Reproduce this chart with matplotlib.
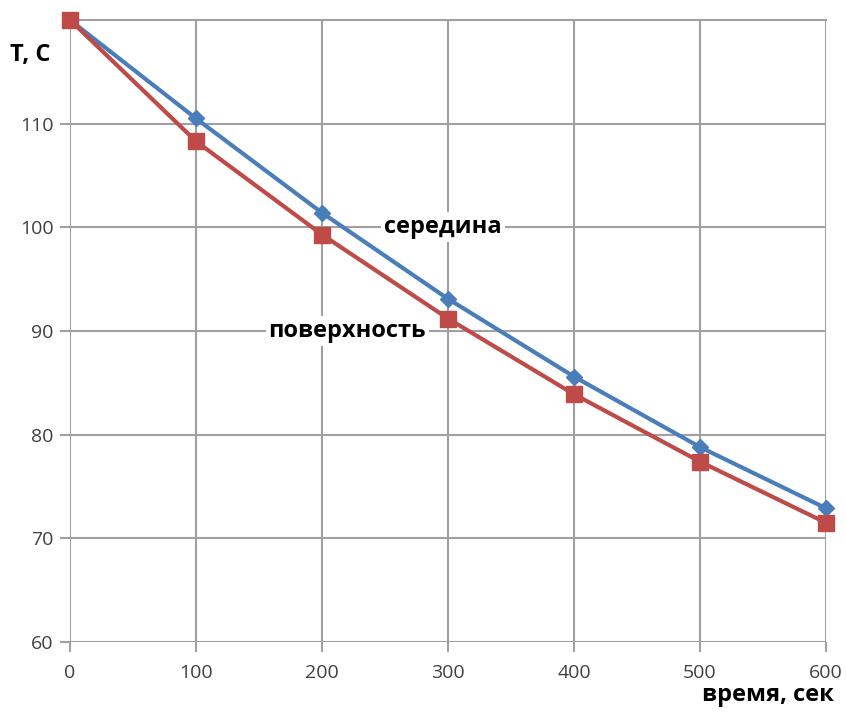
import matplotlib
matplotlib.use("Agg")
import matplotlib.pyplot as plt

# данные
time_s = [0, 100, 200, 300, 400, 500, 600]
t_middle = [120.0, 110.5, 101.4, 93.1, 85.6, 78.8, 72.9]
t_surface = [120.0, 108.3, 99.3, 91.2, 83.9, 77.4, 71.5]
x_ticks = [0, 100, 200, 300, 400, 500, 600]
y_ticks = [60, 70, 80, 90, 100, 110]

plt.rcParams['font.family'] = ['Open Sans', 'DejaVu Sans']

fig = plt.figure(figsize=(8.46, 7.17), dpi=100)
ax = fig.add_axes([70 / 846, 75 / 717, 756 / 846, 622 / 717])

grid_c = '#a0a0a0'
ax.set_xlim(0, 600)
ax.set_ylim(60, 120)
ax.set_xticks(x_ticks)
ax.set_yticks(y_ticks)
ax.grid(True, color=grid_c, linewidth=1.5)
for s in ax.spines.values():
    s.set_visible(False)
ax.spines['top'].set_visible(True)
ax.spines['top'].set_color(grid_c)
ax.spines['top'].set_linewidth(1.5)
ax.tick_params(axis='both', colors=grid_c, width=1.5, length=7,
               labelcolor='#404040', labelsize=14)
ax.tick_params(axis='x', pad=9)
ax.tick_params(axis='y', pad=5)
ax.set_axisbelow(True)

blue = '#4a7ebb'
red = '#be4b48'
ax.plot(time_s, t_middle, color=blue, lw=3, marker='D', ms=8,
        clip_on=False, zorder=3)
ax.plot(time_s, t_surface, color=red, lw=3, marker='s', ms=12,
        clip_on=False, zorder=4)

box = dict(facecolor='white', edgecolor='none', pad=2)
ax.text(296, 100, 'середина', fontsize=17, fontweight='bold',
        ha='center', va='center', bbox=box, zorder=5)
ax.text(220, 90, 'поверхность', fontsize=17, fontweight='bold',
        ha='center', va='center', bbox=box, zorder=5)

fig.text(10 / 846, 1 - 55 / 717, 'T, C', fontsize=17, fontweight='bold',
         ha='left', va='center')
fig.text(834 / 846, 1 - 695 / 717, 'время, сек', fontsize=17,
         fontweight='bold', ha='right', va='center')

fig.savefig('out.png', dpi=100)
